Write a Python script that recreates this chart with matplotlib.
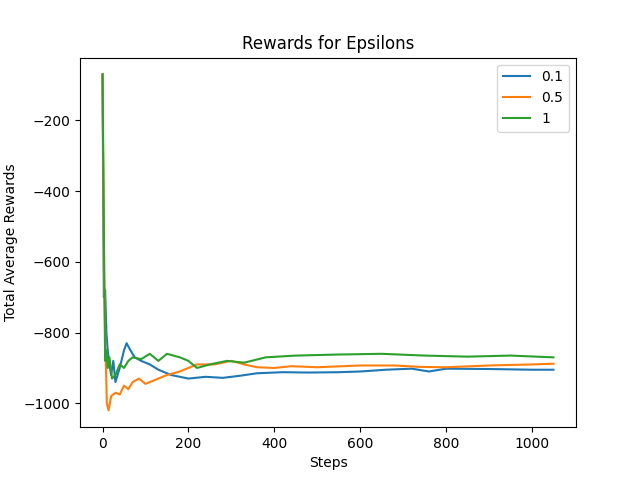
import matplotlib
matplotlib.use('Agg')
import matplotlib.pyplot as plt

steps_01 = [0, 3, 6, 9, 12, 16, 20, 25, 30, 40, 50, 56, 65, 75, 90, 110, 130, 160, 200, 240,
            280, 320, 360, 420, 480, 550, 600, 660, 720, 760, 800, 900, 1000, 1050]
rew_01 = [-70, -700, -680, -800, -850, -890, -920, -880, -940, -900, -850, -830, -850, -870, -880,
          -890, -905, -920, -930, -925, -928, -922, -915, -912, -913, -912, -910, -905, -902, -910,
          -902, -903, -905, -905]

steps_05 = [0, 3, 6, 10, 14, 20, 30, 40, 50, 60, 70, 85, 100, 120, 150, 180, 220, 260, 300, 330,
            360, 400, 440, 500, 560, 600, 680, 740, 800, 900, 1000, 1050]
rew_05 = [-70, -600, -800, -1000, -1020, -980, -970, -975, -950, -960, -940, -930, -945, -935,
          -920, -910, -890, -890, -880, -890, -898, -900, -895, -898, -895, -893, -893, -897,
          -898, -893, -890, -888]

steps_1 = [0, 3, 6, 9, 12, 16, 22, 30, 40, 50, 60, 70, 90, 110, 130, 150, 180, 200, 220, 250,
           290, 330, 380, 450, 550, 650, 750, 850, 950, 1050]
rew_1 = [-70, -500, -880, -850, -900, -870, -930, -920, -890, -900, -880, -870, -875, -860, -880,
         -860, -870, -880, -900, -890, -880, -885, -870, -865, -862, -860, -865, -868, -865, -870]

plt.figure(figsize=(6.4, 4.8))
plt.plot(steps_01, rew_01, label='0.1')
plt.plot(steps_05, rew_05, label='0.5')
plt.plot(steps_1, rew_1, label='1')
plt.title('Rewards for Epsilons')
plt.xlabel('Steps')
plt.ylabel('Total Average Rewards')
plt.legend()
plt.savefig('out.png')
